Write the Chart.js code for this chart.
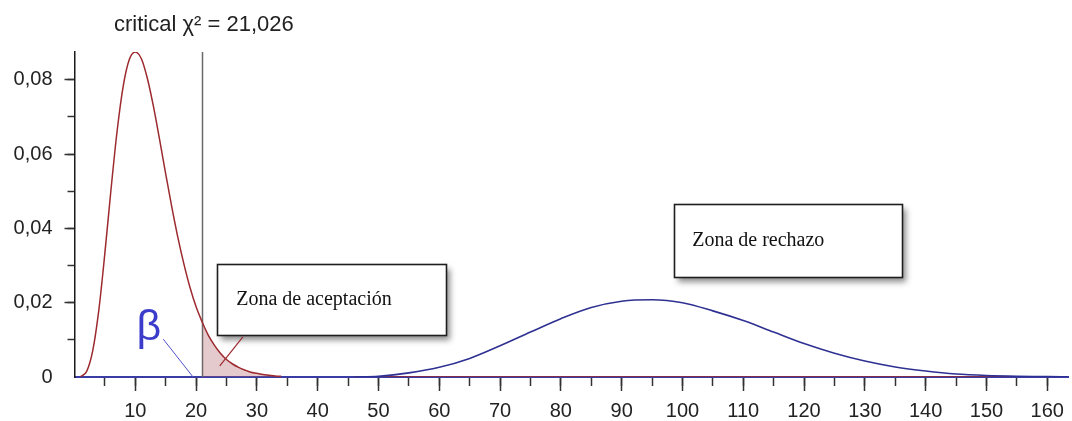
<!DOCTYPE html>
<html>
<head>
<meta charset="utf-8">
<script src="https://cdn.jsdelivr.net/npm/chart.js@4.4.1/dist/chart.umd.min.js"></script>
<style>
  html, body { margin: 0; padding: 0; background: #fff; }
  #wrap { width: 1072px; height: 421px; }
</style>
</head>
<body>
<div id="wrap"><canvas id="c" width="1072" height="421"></canvas></div>
<script>
// Critical value of the test statistic
const CRITICAL = 21.026;
const titleText = 'critical χ² = 21,026';
const acceptText = 'Zona de aceptación';
const rejectText = 'Zona de rechazo';
const betaText = 'β';

// Density under H0 (central chi-square)
const h0X = [1, 2, 3, 4, 5, 6, 7, 8, 9, 10, 11, 12, 13, 14, 15, 16, 17, 18, 19, 20, 21, 21.026,
             22, 23, 24, 25, 26, 27, 28, 29, 30, 31, 32, 33, 34, 40, 46, 160];
const h0Y = [0.0001, 0.0015, 0.0071, 0.0180, 0.0334, 0.0504, 0.0661, 0.0782, 0.0854, 0.0875,
             0.0857, 0.0803, 0.0727, 0.0639, 0.0547, 0.0458, 0.0376, 0.0304, 0.0241, 0.0189,
             0.0148, 0.0147, 0.0113, 0.0086, 0.0064, 0.0047, 0.0035, 0.0026, 0.0019, 0.0013,
             0.0010, 0.0007, 0.0005, 0.0003, 0.0002, null, 0, 0];

// Density under H1 (shifted distribution)
const h1X = [46, 50, 55, 60, 65, 70, 75, 80, 85, 90, 95, 100, 105, 110, 115, 120, 125, 130,
             135, 140, 145, 150, 155, 160, 163.5];
const h1Y = [0, 0.0002, 0.0011, 0.0026, 0.0050, 0.0084, 0.0121, 0.0157, 0.0187, 0.0204,
             0.0208, 0.0200, 0.0178, 0.0152, 0.0121, 0.0090, 0.0064, 0.0043, 0.0027, 0.0016,
             0.0008, 0.0004, 0.0002, 0.0001, 0];

// Axis ranges and tick steps
const xRange = [0, 163.5];
const yRange = [0, 0.0875];
const xMajorStep = 10, xMinorStep = 5;
const yMajorStep = 0.02, yMinorStep = 0.01;

const pts = (xs, ys) => xs.map((x, i) => ({ x: x, y: ys[i] }));
const shadeX = h0X.filter(x => x >= CRITICAL && x <= 34);
const shadeY = shadeX.map(x => h0Y[h0X.indexOf(x)]);

const RED = '#9c2a2e';
const BLUE = '#2e3192';
const TXT = '#222';
const noZero = c => (c.tick && c.tick.value === 0) ? 'rgba(0,0,0,0)' : '#333';

const overlay = {
  id: 'overlay',
  beforeDatasetsDraw(chart) {
    const { ctx, scales: { x, y } } = chart;
    const px = Math.round(x.getPixelForValue(CRITICAL)) + 0.5;
    ctx.save();
    ctx.strokeStyle = '#6a6a6a';
    ctx.lineWidth = 1.5;
    ctx.beginPath();
    ctx.moveTo(px, y.getPixelForValue(yRange[1]));
    ctx.lineTo(px, y.getPixelForValue(0));
    ctx.stroke();
    ctx.restore();
  },
  afterDatasetsDraw(chart) {
    const { ctx, scales: { x, y } } = chart;
    const X = v => x.getPixelForValue(v), Y = v => y.getPixelForValue(v);
    ctx.save();

    const box = (x0, x1, yT, yB, label, tx, ty) => {
      const l = Math.round(X(x0)) + 0.5, r = Math.round(X(x1)) + 0.5;
      const t = Math.round(Y(yT)) + 0.5, b = Math.round(Y(yB)) + 0.5;
      ctx.save();
      ctx.shadowColor = 'rgba(0,0,0,0.45)';
      ctx.shadowBlur = 6;
      ctx.shadowOffsetX = 3;
      ctx.shadowOffsetY = 4;
      ctx.fillStyle = '#fff';
      ctx.fillRect(l, t, r - l, b - t);
      ctx.restore();
      ctx.strokeStyle = '#1e1e1e';
      ctx.lineWidth = 1.6;
      ctx.strokeRect(l, t, r - l, b - t);
      ctx.fillStyle = '#111';
      ctx.font = '20px "Liberation Serif", "Times New Roman", serif';
      ctx.textBaseline = 'middle';
      ctx.textAlign = 'left';
      ctx.fillText(label, X(tx), Y(ty));
    };
    box(23.4, 61.1, 0.0304, 0.0113, acceptText, 26.6, 0.0208);
    box(98.6, 136.1, 0.0466, 0.0269, rejectText, 101.6, 0.0368);

    // pointer into the shaded area
    ctx.strokeStyle = RED;
    ctx.lineWidth = 1.2;
    ctx.beginPath();
    ctx.moveTo(X(27.7), Y(0.0108));
    ctx.lineTo(X(23.9), Y(0.0030));
    ctx.stroke();

    // beta label and its leader
    ctx.strokeStyle = '#5050c8';
    ctx.lineWidth = 1;
    ctx.beginPath();
    ctx.moveTo(X(14.6), Y(0.0102));
    ctx.lineTo(X(19.5), Y(0));
    ctx.stroke();
    ctx.fillStyle = '#3c3ccc';
    ctx.font = '43px "Liberation Sans", Arial, sans-serif';
    ctx.textBaseline = 'alphabetic';
    ctx.textAlign = 'left';
    ctx.fillText(betaText, X(10.2), Y(0.0100));

    // title above the critical line
    ctx.fillStyle = TXT;
    ctx.font = '22px "Liberation Sans", Arial, sans-serif';
    ctx.textBaseline = 'middle';
    ctx.fillText(titleText, X(6.5), chart.chartArea.top - 27);
    ctx.restore();
  }
};

new Chart(document.getElementById('c'), {
  type: 'line',
  data: {
    datasets: [
      {
        label: 'H1',
        data: pts(h1X, h1Y),
        borderColor: BLUE,
        borderWidth: 1.6,
        pointRadius: 0,
        fill: false,
        cubicInterpolationMode: 'monotone'
      },
      {
        label: 'H0',
        data: pts(h0X, h0Y),
        borderColor: RED,
        borderWidth: 1.5,
        pointRadius: 0,
        fill: false,
        spanGaps: false,
        cubicInterpolationMode: 'monotone'
      },
      {
        label: 'shade',
        data: pts(shadeX, shadeY),
        borderWidth: 0,
        borderColor: 'rgba(0,0,0,0)',
        backgroundColor: 'rgba(170,90,100,0.32)',
        pointRadius: 0,
        fill: 'origin',
        cubicInterpolationMode: 'monotone'
      }
    ]
  },
  options: {
    responsive: false,
    animation: false,
    events: [],
    layout: { padding: { top: 52, right: 3, left: 0, bottom: 0 } },
    plugins: { legend: { display: false }, tooltip: { enabled: false }, title: { display: false } },
    scales: {
      x: {
        type: 'linear', position: 'bottom', weight: 1,
        min: xRange[0], max: xRange[1],
        afterFit(s) { s.height = 44; },
        border: { display: true, color: '#3a3ca6', width: 2 },
        grid: { drawOnChartArea: false, drawTicks: true, tickLength: 14, tickWidth: 1.5, tickColor: noZero },
        ticks: {
          stepSize: xMajorStep, includeBounds: false, autoSkip: false, maxRotation: 0,
          padding: 8, color: TXT,
          font: { family: '"Liberation Sans", Arial, sans-serif', size: 20 },
          callback: v => (v === 0 ? '' : String(v))
        }
      },
      x2: {
        type: 'linear', position: 'bottom', weight: 0,
        min: xRange[0], max: xRange[1],
        afterFit(s) { s.height = 0; },
        border: { display: false },
        grid: { drawOnChartArea: false, drawTicks: true, tickLength: 9, tickWidth: 1.5, tickColor: noZero },
        ticks: { stepSize: xMinorStep, includeBounds: false, autoSkip: false, display: false }
      },
      y: {
        type: 'linear', position: 'left', weight: 1,
        min: yRange[0], max: yRange[1],
        afterFit(s) { s.width = 74.5; },
        border: { display: true, color: '#1a1a1a', width: 1.5 },
        grid: { drawOnChartArea: false, drawTicks: true, tickLength: 10, tickWidth: 1.5, tickColor: noZero },
        ticks: {
          stepSize: yMajorStep, includeBounds: false, autoSkip: false,
          padding: 12, color: TXT,
          font: { family: '"Liberation Sans", Arial, sans-serif', size: 20 },
          callback: v => (v === 0 ? '0' : Number(v).toFixed(2).replace('.', ','))
        }
      },
      y2: {
        type: 'linear', position: 'left', weight: 0,
        min: yRange[0], max: yRange[1],
        afterFit(s) { s.width = 0; },
        border: { display: false },
        grid: { drawOnChartArea: false, drawTicks: true, tickLength: 7, tickWidth: 1.5, tickColor: noZero },
        ticks: { stepSize: yMinorStep, includeBounds: false, autoSkip: false, display: false }
      }
    }
  },
  plugins: [overlay]
});
</script>
</body>
</html>
